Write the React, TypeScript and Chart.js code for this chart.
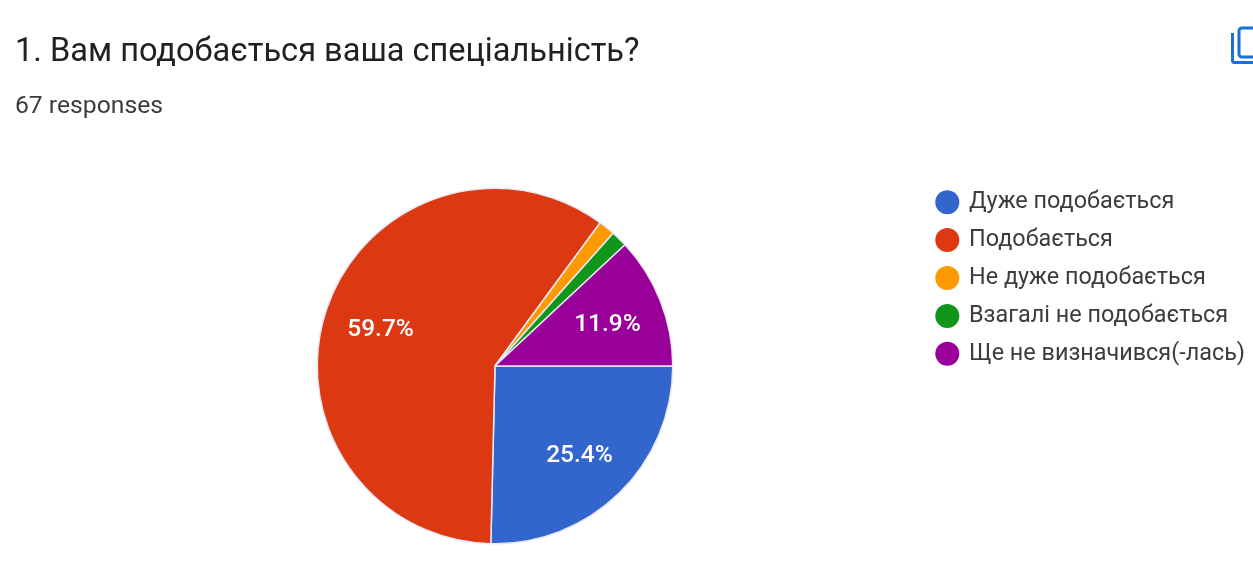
import React, { useEffect, useRef } from "react";
import { Chart, registerables } from "chart.js";

Chart.register(...registerables);

const titleText = "1. Вам подобається ваша спеціальність?";
const subtitleText = "67 responses";
const categories = ["Дуже подобається", "Подобається", "Не дуже подобається", "Взагалі не подобається", "Ще не визначився(-лась)"];
const values = [17, 40, 1, 1, 8];
const percentLabels = ["25.4%", "59.7%", "", "", "11.9%"];
const colors = ["#3366cc", "#dc3912", "#ff9900", "#109618", "#990099"];

const pieAreaPlugin = {
  id: "pieArea",
  afterLayout(chart: any) {
    const area = chart.chartArea;
    area.left = 316.5;
    area.right = 673.5;
    area.width = 357;
    area.top = 187.5;
    area.bottom = 544.5;
    area.height = 357;
    chart.legend.left += 2;
    chart.legend.right += 2;
  },
};

const labelPlugin = {
  id: "sliceLabels",
  afterDatasetsDraw(chart: any) {
    const { ctx } = chart;
    const arcs = chart.getDatasetMeta(0).data;
    ctx.save();
    ctx.fillStyle = "#ffffff";
    ctx.font = "500 24.5px Roboto, Arial, sans-serif";
    ctx.textAlign = "center";
    ctx.textBaseline = "middle";
    arcs.forEach((arc: any, i: number) => {
      if (!percentLabels[i]) return;
      const a = (arc.startAngle + arc.endAngle) / 2;
      const r = arc.outerRadius * 0.68;
      ctx.fillText(percentLabels[i], arc.x + Math.cos(a) * r, arc.y + Math.sin(a) * r + 3);
    });
    ctx.restore();
  },
};

export default function App() {
  const ref = useRef<HTMLCanvasElement>(null);
  useEffect(() => {
    if (!ref.current) return;
    const chart = new Chart(ref.current, {
      type: "pie",
      data: {
        labels: categories,
        datasets: [{ data: values, backgroundColor: colors, borderColor: "#e8e8f4", borderWidth: 1.5 }],
      },
      options: {
        responsive: false,
        animation: false,
        rotation: 90,
        layout: { padding: { top: 176, bottom: 37, left: 0, right: 0 } },
        plugins: {
          legend: {
            display: true,
            position: "right",
            align: "start",
            labels: {
              usePointStyle: true,
              pointStyle: "circle",
              boxWidth: 20,
              boxHeight: 17,
              padding: 14.5,
              color: "#3c3c3c",
              font: { family: "Roboto, Arial, sans-serif", size: 23.4 },
              generateLabels: (c: any) =>
                (Chart.overrides.pie.plugins.legend.labels as any).generateLabels(c).map((item: any) => ({
                  ...item,
                  lineWidth: 0,
                  strokeStyle: item.fillStyle,
                })),
            },
          },
          tooltip: { enabled: false },
        },
      },
      plugins: [pieAreaPlugin, labelPlugin],
    } as any);
    return () => chart.destroy();
  }, []);
  return (
    <div style={{ position: "absolute", left: 0, top: 0, width: 1253, height: 582, background: "#fff", overflow: "hidden" }}>
      <canvas ref={ref} width={1253} height={582} style={{ position: "absolute", left: 0, top: 0 }} />
      <div style={{ position: "absolute", left: 15, top: 30, fontFamily: "Roboto, Arial, sans-serif", fontWeight: 400, fontSize: 32.55, lineHeight: "40px", color: "#212121", whiteSpace: "nowrap" }}>{titleText}</div>
      <div style={{ position: "absolute", left: 15, top: 90, fontFamily: "Roboto, Arial, sans-serif", fontWeight: 400, fontSize: 24.7, lineHeight: "30px", color: "#3c3c3c", whiteSpace: "nowrap" }}>{subtitleText}</div>
      <svg width="30" height="45" viewBox="0 0 30 45" style={{ position: "absolute", left: 1225, top: 24 }}>
        <path d="M7.5 9 V36.5 Q7.5 38.5 9.5 38.5 H30" fill="none" stroke="#1a6fd8" strokeWidth="3" />
        <rect x="14" y="4" width="30" height="29" rx="3" fill="none" stroke="#1a6fd8" strokeWidth="3" />
      </svg>
    </div>
  );
}
